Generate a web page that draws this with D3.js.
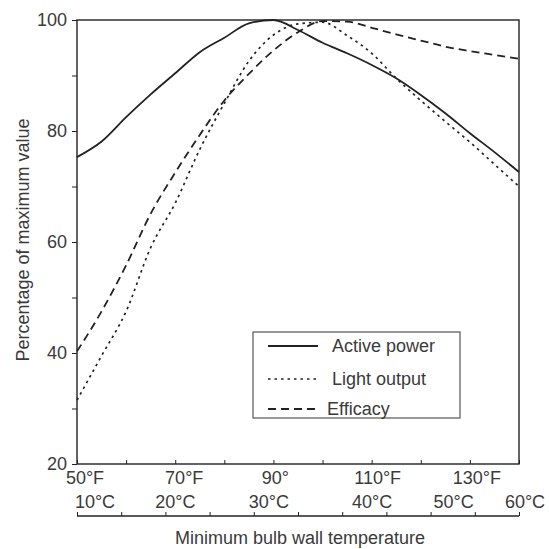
<!DOCTYPE html>
<html>
<head>
<meta charset="utf-8">
<script src="https://cdn.jsdelivr.net/npm/d3@7/dist/d3.min.js"></script>
<style>
  body { margin: 0; background: #fff; }
  svg { display: block; font-family: "Liberation Sans", Arial, sans-serif; }
</style>
</head>
<body>
<div class="chart"></div>
<script>
'use strict';

// Data (temperature in °F, values in % of maximum)
var tempF = [50, 55, 60, 65, 70, 75, 80, 85, 90, 95, 100, 105, 110, 115, 120, 125, 130, 135, 140];
var activePower = [75.3, 78.1, 82.5, 86.6, 90.4, 94.2, 96.8, 99.4, 100, 98.2, 95.9, 94, 91.9, 89.5, 86.5, 83.2, 79.6, 76.2, 72.6];
var lightOutput = [31.5, 39.5, 47.5, 59, 67, 76.7, 85, 92.6, 97.3, 99.3, 99.6, 97.2, 94, 89.5, 85.5, 81.7, 78, 74, 70];
var efficacy = [40.3, 47.5, 55.8, 65.1, 72.5, 79.3, 85.5, 90.3, 94.5, 97.8, 99.8, 99.7, 98.6, 97.4, 96.3, 95.2, 94.4, 93.7, 93];

var seriesNames = ['Active power', 'Light output', 'Efficacy'];
var yTicks = [20, 40, 60, 80, 100];
var fTicks = [50, 70, 90, 110, 130];
var fTickLabels = ['50°F', '70°F', '90°', '110°F', '130°F'];
var cTicks = [10, 20, 30, 40, 50, 60];
var cTickLabels = ['10°C', '20°C', '30°C', '40°C', '50°C', '60°C'];

(function() {
  var W = 549, H = 549;
  var left = 77, right = 519, top = 20, bottom = 464;
  var cAxisY = 516;
  var ink = '#222';
  var textCol = '#3a3a3a';

  var svg = d3.select('.chart').append('svg')
    .attr('width', W)
    .attr('height', H);

  var x = d3.scaleLinear().domain([50, 140]).range([left, right]);
  var xC = d3.scaleLinear().domain([10, 60]).range([left, right]);
  var y = d3.scaleLinear().domain([20, 100]).range([bottom, top]);

  // Frame
  svg.append('rect')
    .attr('x', left).attr('y', top)
    .attr('width', right - left).attr('height', bottom - top)
    .attr('fill', 'none')
    .attr('stroke', ink)
    .attr('stroke-width', 1.4);

  // Y axis
  var yAxis = d3.axisLeft(y)
    .tickValues(d3.range(20, 101, 10))
    .tickSize(5)
    .tickPadding(5)
    .tickFormat(function(d) { return yTicks.indexOf(d) >= 0 ? d : ''; });
  var gy = svg.append('g')
    .attr('transform', 'translate(' + left + ',0)')
    .call(yAxis);
  gy.select('.domain').remove();
  gy.selectAll('line').attr('stroke', ink);
  gy.selectAll('text').attr('font-size', 18).attr('fill', textCol);

  // °F axis (bottom of plot), ticks pointing inward
  var fAxis = d3.axisBottom(x)
    .tickValues(d3.range(50, 141, 10))
    .tickSize(-4)
    .tickFormat('');
  var gf = svg.append('g')
    .attr('transform', 'translate(0,' + bottom + ')')
    .call(fAxis);
  gf.select('.domain').remove();
  gf.selectAll('line').attr('stroke', ink);

  // label nudges, as printed in the original
  var fShift = [8, 9, 2, 6, 7];
  svg.append('g').selectAll('text')
    .data(fTicks)
    .enter().append('text')
    .attr('x', function(d, i) { return x(d) + fShift[i]; })
    .attr('y', bottom + 20)
    .attr('text-anchor', 'middle')
    .attr('font-size', 18)
    .attr('fill', textCol)
    .text(function(d, i) { return fTickLabels[i]; });

  // °C axis
  var cAxis = d3.axisBottom(xC)
    .tickValues(d3.range(10, 61, 5))
    .tickSize(-4)
    .tickFormat('');
  var gc = svg.append('g')
    .attr('transform', 'translate(0,' + cAxisY + ')')
    .call(cAxis);
  gc.select('.domain').attr('stroke', ink).attr('stroke-width', 1.4)
    .attr('d', 'M' + left + ',0H' + right);
  gc.selectAll('line').attr('stroke', ink);

  var cShift = [18, 10, 15, 30, 23, 6];
  svg.append('g').selectAll('text')
    .data(cTicks)
    .enter().append('text')
    .attr('x', function(d, i) { return xC(d) + cShift[i]; })
    .attr('y', bottom + 44)
    .attr('text-anchor', 'middle')
    .attr('font-size', 18)
    .attr('fill', textCol)
    .text(function(d, i) { return cTickLabels[i]; });

  // Axis titles
  svg.append('text')
    .attr('x', 300)
    .attr('y', 544)
    .attr('text-anchor', 'middle')
    .attr('font-size', 18)
    .attr('fill', textCol)
    .text('Minimum bulb wall temperature');

  svg.append('text')
    .attr('transform', 'translate(29,240) rotate(-90)')
    .attr('text-anchor', 'middle')
    .attr('font-size', 18)
    .attr('fill', textCol)
    .text('Percentage of maximum value');

  // Lines
  var styles = [
    { dash: null, width: 1.8 },
    { dash: '2.5,4', width: 1.7 },
    { dash: '8,5', width: 1.8 }
  ];
  var seriesData = [activePower, lightOutput, efficacy];

  var line = d3.line()
    .x(function(d) { return x(d[0]); })
    .y(function(d) { return y(d[1]); })
    .curve(d3.curveMonotoneX);

  svg.append('g').selectAll('path')
    .data(seriesData)
    .enter().append('path')
    .attr('d', function(vals) {
      return line(tempF.map(function(t, i) { return [t, vals[i]]; }));
    })
    .attr('fill', 'none')
    .attr('stroke', ink)
    .attr('stroke-width', function(d, i) { return styles[i].width; })
    .attr('stroke-dasharray', function(d, i) { return styles[i].dash; });

  // Legend
  var lg = svg.append('g');
  lg.append('rect')
    .attr('x', 253).attr('y', 332)
    .attr('width', 207).attr('height', 86)
    .attr('fill', '#fff')
    .attr('stroke', '#555')
    .attr('stroke-width', 1.2);

  var rowY = [346, 379, 409];
  var rows = lg.selectAll('.row')
    .data(seriesNames)
    .enter().append('g')
    .attr('class', 'row')
    .attr('transform', function(d, i) { return 'translate(0,' + rowY[i] + ')'; });

  rows.append('line')
    .attr('x1', 268).attr('x2', 318)
    .attr('stroke', ink)
    .attr('stroke-width', function(d, i) { return styles[i].width; })
    .attr('stroke-dasharray', function(d, i) { return styles[i].dash; });

  rows.append('text')
    .attr('x', function(d, i) { return i === 2 ? 327 : 332; })
    .attr('dy', '0.35em')
    .attr('font-size', 18)
    .attr('fill', textCol)
    .text(function(d) { return d; });
})();
</script>
</body>
</html>
